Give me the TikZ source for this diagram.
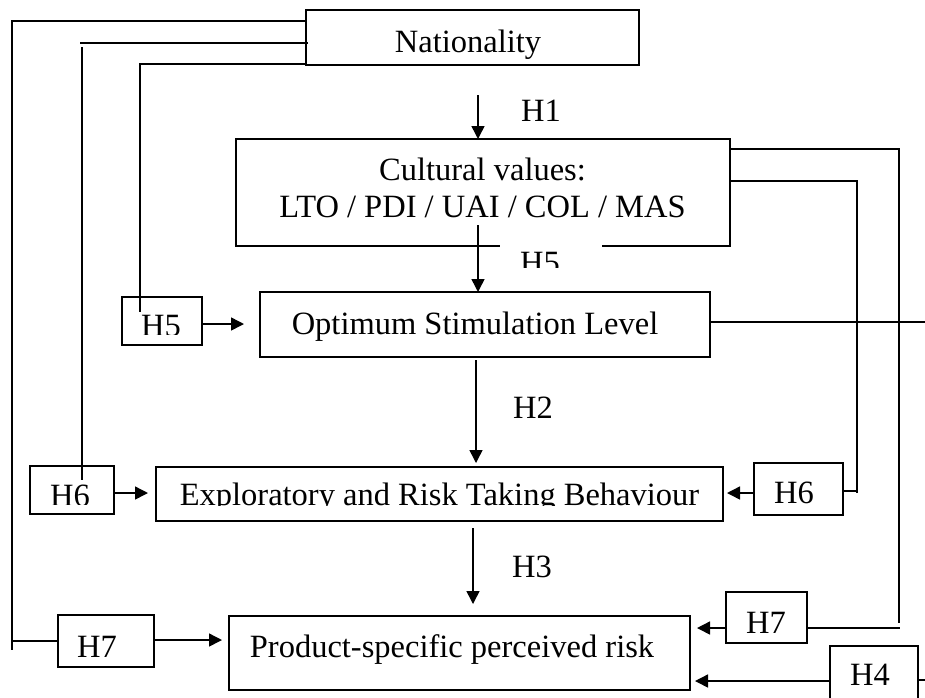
\documentclass[tikz,border=0pt]{standalone}
\usepackage{fontspec}
\setmainfont{Liberation Serif}
\usetikzlibrary{arrows.meta}
\begin{document}
\begin{tikzpicture}[x=1pt,y=-1pt,
  box/.style={draw, line width=1.6pt, inner sep=0pt, outer sep=0pt},
  lbl/.style={anchor=base, inner sep=0pt, font=\fontsize{32.5}{38}\selectfont},
  ln/.style={line width=1.5pt},
  arr/.style={line width=1.5pt, -{Triangle[length=13pt,width=13pt]}}]
\useasboundingbox (0,0) rectangle (925,697);
\clip (0,0) rectangle (925,697);

% boxes
\node[box, minimum width=333pt, minimum height=55pt]  (nat)  at (472.5,37.5) {};
\node[box, minimum width=494pt, minimum height=107pt] (cul)  at (483,192.5) {};
\node[box, minimum width=80pt,  minimum height=48pt]  (h5l)  at (162,321) {};
\node[box, minimum width=450pt, minimum height=65pt]  (opt)  at (485,324.5) {};
\node[box, minimum width=84pt,  minimum height=48pt]  (h6l)  at (72,490) {};
\node[box, minimum width=567pt, minimum height=54pt]  (exp)  at (439.5,494) {};
\node[box, minimum width=89pt,  minimum height=52pt]  (h6r)  at (798.5,489) {};
\node[box, minimum width=96pt,  minimum height=52pt]  (h7l)  at (106,641) {};
\node[box, minimum width=461pt, minimum height=74pt]  (prod) at (459.5,653) {};
\node[box, minimum width=81pt,  minimum height=51pt]  (h7r)  at (766.5,617.5) {};
\node[box, minimum width=88pt,  minimum height=56pt]  (h4)   at (874,674) {};

% texts
\node[lbl] (nat-t)  at (468,52)    {Nationality};
\node[lbl] (h1-t)   at (541,121)   {H1};
\node[lbl] (cul-t1) at (482.5,180) {Cultural values:};
\node[lbl] (cul-t2) at (482.5,217) {LTO / PDI / UAI / COL / MAS};
\node[lbl] (opt-t)  at (475,334)   {Optimum Stimulation Level};
\node[lbl] (h2-t)   at (533,418)   {H2};
\node[lbl] (h6r-t)  at (794,503)   {H6};
\node[lbl] (h3-t)   at (532,577)   {H3};
\node[lbl] (h7r-t)  at (766,633)   {H7};
\node[lbl] (h7l-t)  at (97,657)    {H7};
\node[lbl] (prod-t) at (452,657)   {Product-specific perceived risk};
\node[lbl] (h4-t)   at (870,685)   {H4};

% labels whose lower part is cut off by their frame
\begin{scope}
  \clip (125,300) rectangle (199,334);
  \node[lbl] (h5l-t) at (161,336.5) {H5};
\end{scope}
\begin{scope}
  \clip (33,469) rectangle (111,504);
  \node[lbl] (h6l-t) at (70,506.5) {H6};
\end{scope}
\begin{scope}
  \clip (159,470) rectangle (720,505);
  \node[lbl] (exp-t) at (439.5,505) {Exploratory and Risk Taking Behaviour};
\end{scope}
% H5 label on a white field over the lower edge of the values box
\fill[white] (500,239) rectangle (602,268);
\begin{scope}
  \clip (500,239) rectangle (602,267);
  \node[lbl] (h5m-t) at (540,273.5) {H5};
\end{scope}

% bend points
\coordinate (a1) at (12,21);
\coordinate (a1e) at (12,650);
\coordinate (a2) at (80,43);
\coordinate (a2v) at (82,47);
\coordinate (a2e) at (82,480);
\coordinate (a3) at (140,64);
\coordinate (a3e) at (140,312);
\coordinate (b1) at (899,149);
\coordinate (b1e) at (899,623);
\coordinate (b2) at (857,181);
\coordinate (b2e) at (857,493);
\coordinate (e1) at (925,322);
\coordinate (e2) at (925,680);
\coordinate (h1s) at (478,95);
\coordinate (h5s) at (478,225);

% connectors from Nationality on the left
\draw[ln] (nat.west |- a1) -- (a1) -- (a1e);
\draw[ln] (a1 |- h7l.west) -- (h7l.west);
\draw[ln] ([xshift=2pt]nat.west |- a2) -- (a2);
\draw[ln] (a2v) -- (a2e);
\draw[ln] (nat.west |- a3) -- (a3) -- (a3e);

% connectors from the values box on the right
\draw[ln] (cul.east |- b1) -- (b1) -- (b1e);
\draw[ln] (h7r.east |- 0,628) -- ([xshift=1pt]b1 |- 0,628);
\draw[ln] (cul.east |- b2) -- (b2) -- (b2e);
\draw[ln] (h6r.east |- 0,491) -- (b2 |- 0,491);
\draw[ln] (opt.east |- e1) -- (e1);
\draw[ln] (h4.east |- e2) -- (e2);

% main chain
\draw[arr] (h1s) -- (cul.north -| h1s);
\draw[arr] (h5s) -- (opt.north -| h5s);
\draw[arr, shorten <=3pt, shorten >=4pt] (opt.south -| 476,0) -- (exp.north -| 476,0);
\draw[arr, shorten <=7pt, shorten >=12pt] (exp.south -| 473,0) -- (prod.north -| 473,0);

% side arrows
\draw[arr, shorten >=16pt] (h5l.east |- 0,324) -- (opt.west |- 0,324);
\draw[arr, shorten >=8pt]  (h6l.east |- 0,493) -- (exp.west |- 0,493);
\draw[arr, shorten >=7pt]  (h7l.east |- 0,640) -- (prod.west |- 0,640);
\draw[arr, shorten >=4pt]  (h6r.west |- 0,493) -- (exp.east |- 0,493);
\draw[arr, shorten >=7pt]  (h7r.west |- 0,628) -- (prod.east |- 0,628);
\draw[arr, shorten >=5pt]  (h4.west |- 0,681) -- (prod.east |- 0,681);
\end{tikzpicture}
\end{document}
